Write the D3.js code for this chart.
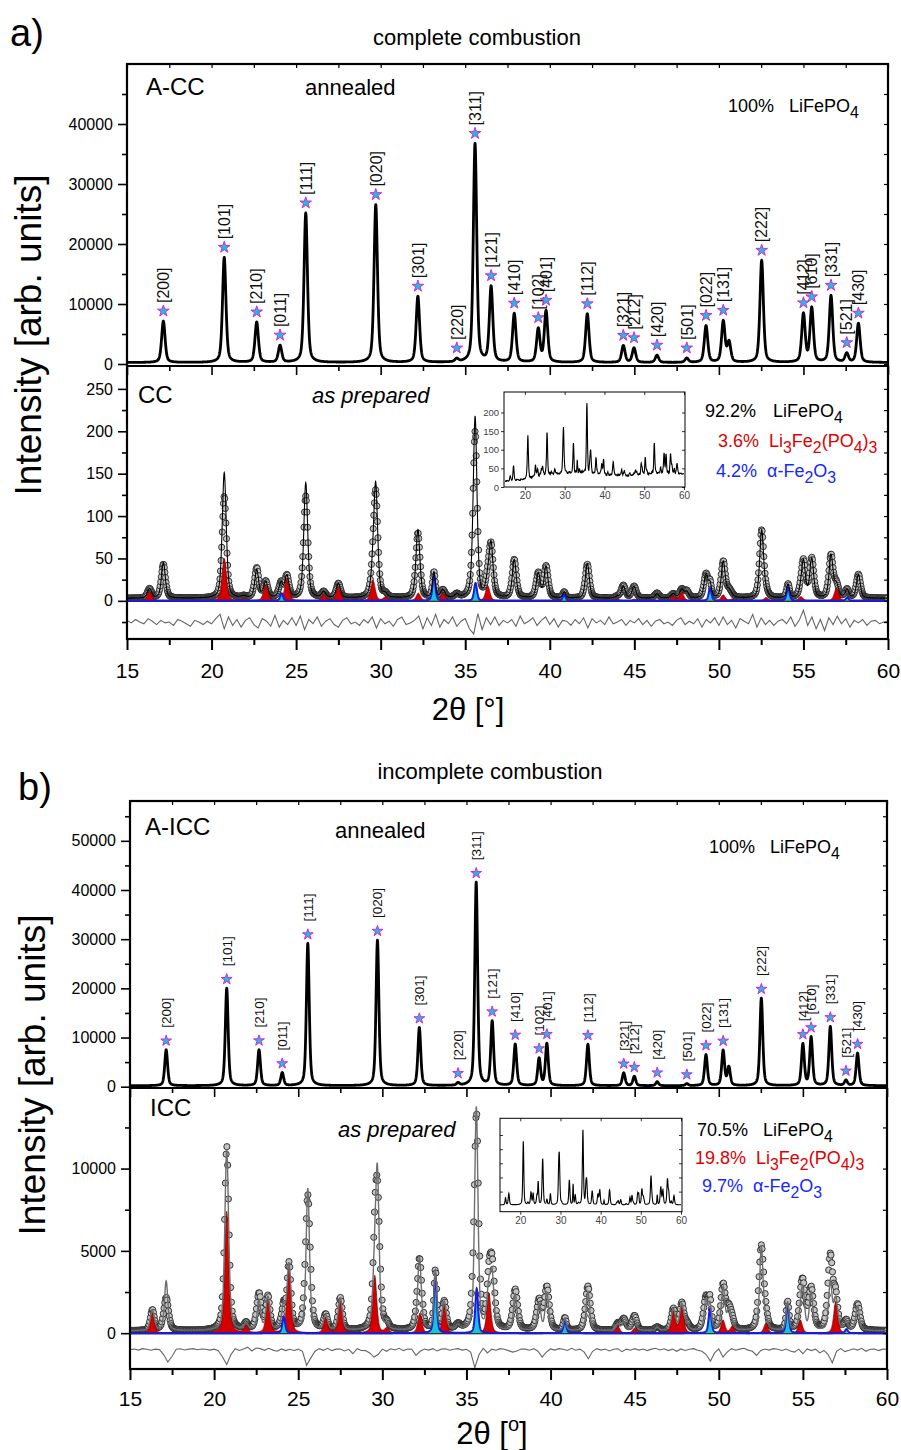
<!DOCTYPE html>
<html>
<head>
<meta charset="utf-8">
<script src="https://cdn.jsdelivr.net/npm/d3@7"></script>
<style>
  body { margin: 0; background: #fff; }
  text { font-family: "Liberation Sans", Arial, sans-serif; }
</style>
</head>
<body>
<svg id="fig" width="901" height="1450"></svg>
<script>
// ---------- values ----------
const xTicks = [15, 20, 25, 30, 35, 40, 45, 50, 55, 60];
const xMinor = [17.5, 22.5, 27.5, 32.5, 37.5, 42.5, 47.5, 52.5, 57.5];

// LiFePO4 reflections
const hkl = ["[200]", "[101]", "[210]", "[011]", "[111]", "[020]", "[301]", "[220]", "[311]", "[121]",
  "[410]", "[102]", "[401]", "[112]", "[321]", "[212]", "[420]", "[501]", "[022]", "[131]",
  "[222]", "[412]", "[610]", "[331]", "[521]", "[430]"];
const lfpPos = [17.15, 20.75, 22.67, 24.05, 25.57, 29.71, 32.2, 34.5, 35.58, 36.53,
  37.9, 39.32, 39.78, 42.22, 44.35, 44.98, 46.34, 48.1, 49.24, 50.26,
  52.53, 55.0, 55.49, 56.63, 57.56, 58.25];
const shoulderPos = [50.6];

// annealed patterns (upper panels)
const annealedCC = [6900, 17500, 6700, 2800, 24900, 26300, 11000, 500, 36400, 12500,
  8100, 5500, 8500, 8100, 2800, 2400, 1200, 700, 6100, 6800,
  17000, 8000, 9000, 11100, 1450, 6500];
const annealedICC = [7300, 19800, 7300, 2600, 28900, 29600, 11800, 500, 41300, 13000,
  8400, 5500, 8500, 8400, 2600, 1900, 800, 400, 6300, 7100,
  17800, 8400, 9800, 12000, 1050, 6600];
const shoulderCCann = [3300];
const shoulderICCann = [3700];

// as prepared patterns (lower panels): LiFePO4 part, observed and calculated
const ccObs = [40, 70, 35, 10, 120, 116, 68, 4, 176, 58, 45, 29, 37, 40, 15, 12, 6, 8, 28, 36, 80, 42, 46, 50, 6, 28];
const ccCalc = [42, 98, 33, 10, 136, 126, 72, 4, 194, 60, 45, 29, 37, 41, 14, 12, 5, 7, 28, 36, 80, 42, 46, 50, 6, 28];
const iccObs = [2000, 3800, 2200, 500, 8200, 7700, 3200, 300, 10600, 3700, 2450, 1800, 2600, 2700, 700, 600, 200, 400, 2000, 1900, 5100, 2650, 2500, 4500, 300, 1600];
const iccCalc = [3000, 3600, 1800, 500, 8600, 8600, 3300, 300, 11000, 3000, 2200, 1600, 2300, 2400, 500, 400, 200, 400, 1800, 1800, 5000, 2300, 2300, 2900, 300, 1500];
const shoulderCC = [8];
const shoulderICC = [1200];

// Li3Fe2(PO4)3 contribution (red)
const liPos = [16.33, 20.75, 21.9, 23.2, 24.45, 26.63, 27.5, 29.55, 30.27, 32.23, 33.68, 36.33,
  44.0, 45.0, 47.3, 47.8, 50.25, 50.8, 52.8, 54.85, 56.95];
const liCC = [11, 50, 2, 19, 26, 7, 17, 24, 4, 9, 9, 18, 2, 2, 5, 10, 7, 2, 4, 5, 15];
const liICC = [1250, 7400, 400, 2000, 4000, 900, 1950, 3500, 300, 1200, 1700, 2450, 400, 300, 1300, 1600, 800, 400, 600, 800, 1900];

// alpha-Fe2O3 contribution (cyan/blue)
const fePos = [24.14, 33.15, 35.61, 40.85, 49.48, 54.09, 57.59];
const feCC = [9, 30, 21, 7, 15, 16, 4];
const feICC = [1000, 3600, 2700, 750, 1500, 1700, 250];

// difference curves, 15..60 deg in steps of 0.25
const diffCC = [
  2, -1, 3, 0, -2, 4, 1, -3, 2, -1, 0, -4, 3, 1, -2, -5, 2, 0, -3, 1,
  -2, 4, 9, -8, 6, -4, 3, -6, 2, 5, -3, -7, 4, 1, -5, 8, -6, 2, -3, 5,
  -4, 7, -9, 3, -2, 6, -5, 1, 4, -3, -6, 2, 5, -2, 0, -4, 3, -1, 6, -7,
  4, -2, 1, -5, 3, 6, -3, -1, 2, 7, -8, 5, -4, 9, -6, 3, -2, 6, -5, 1,
  4, -8, -14, 10, -9, 5, -3, 6, -4, 2, -1, 3, -5, 7, -2, 1, 5, -4, 2, 6,
  -3, 4, -6, 2, 1, -4, 3, -2, 5, -7, 4, -1, 2, -3, 6, -2, 0, 3, -4, 2,
  -1, 4, -3, 2, -5, 1, 3, -2, 0, -4, 2, 5, -3, 1, -2, 4, -6, 3, -1, 5,
  -4, 6, -3, 2, -7, 4, 1, -2, 9, -6, 5, -3, 2, -4, 1, 3, -2, 6, -5, 2,
  14, -4, 6, -8, 3, -10, 5, -3, 7, -2, 4, -6, 2, -1, 3, -4, 1, 2, -2, 0,
  1];
const diffICC = [
  0, 40, -30, 60, 20, -40, 30, 0, -300, -750, -400, 20, 50, -20, 30, 60, -10, 40, 20, -30,
  30, -60, -450, -900, -300, 60, -50, 40, 150, -80, 100, 60, -40, 80, -30, -100, 40, -60, 20, -50,
  30, -100, -950, -500, -100, 60, -40, 80, -60, 30, 40, -80, 20, -250, 60, -50, -60, -200, -450, -300,
  30, -100, 50, -20, 80, -60, 40, 20, -350, -100, 40, -30, 60, -80, 30, 50, -40, 20, 60, -30,
  20, -150, -1100, -300, 80, -200, 30, -40, 60, 20, -60, -150, -80, 40, 30, -40, 60, -100, -450, -150,
  40, -30, 60, 20, -50, 80, -40, 30, -150, -550, -100, 60, -30, 40, -80, 20, 50, -120, 30, -40,
  60, -30, 40, -60, 30, 80, -20, 50, -60, 30, -100, 40, -50, 20, 60, -40, -100, -300, -700, -200,
  40, -450, -150, 60, -40, 30, 80, -30, -100, -350, -50, 40, -30, 60, 20, -50, 40, -80, -150, 30,
  -250, 40, -60, 30, -200, -50, -300, -800, -100, 60, -120, -40, 50, -30, 80, -100, 20, 40, -60, 30,
  20];

// raw pattern background of the CC inset, at xTicks
const insetBgCC = [12, 18, 28, 34, 34, 30, 27, 30, 35, 32];

// axis ticks
const yTicksAnnCC = [0, 10000, 20000, 30000, 40000];
const yMinorAnnCC = [5000, 15000, 25000, 35000, 45000];
const yTicksAnnICC = [0, 10000, 20000, 30000, 40000, 50000];
const yMinorAnnICC = [5000, 15000, 25000, 35000, 45000, 55000];
const yTicksCC = [0, 50, 100, 150, 200, 250];
const yMinorCC = [-25, 25, 75, 125, 175, 225];
const yTicksICC = [0, 5000, 10000];
const yMinorICC = [2500, 7500, 12500];
const insetX = [20, 30, 40, 50, 60];
const insetYCC = [0, 50, 100, 150, 200];
const insetYICC = [2500, 5000, 7500, 10000, 12500];

// legend text
const phaseNames = ["LiFePO_4", "Li_3Fe_2(PO_4)_3", "α-Fe_2O_3"];
const fracCC = ["92.2%", "3.6%", "4.2%"];
const fracICC = ["70.5%", "19.8%", "9.7%"];
const fracAnnealed = "100%";

// ---------- drawing ----------
const svg = d3.select("#fig");
const FONT = "'Liberation Sans', Arial, sans-serif";
const phaseColors = ["#000", "#e00000", "#1428ff"];

function pv(x, c, h, w) {
  const t = (x - c) / w;
  return h * (0.45 / (1 + 4 * t * t) + 0.55 * Math.exp(-2.7726 * t * t));
}
function sumPeaks(x, pos, hs, w) {
  let s = 0;
  for (let i = 0; i < pos.length; i++) {
    const d = x - pos[i];
    if (d > -5 && d < 5) s += pv(x, pos[i], hs[i], w);
  }
  return s;
}
const grid = d3.range(15, 60.0001, 0.01);
const diffX = diffCC.map((d, i) => 15 + i * 0.25);

function chem(t, str, size) {
  let cur = 0;
  str.match(/_.|[^_]+/g).forEach(p => {
    const sub = p[0] === "_";
    const off = sub ? size * 0.32 : 0;
    t.append("tspan").attr("dy", off - cur).attr("font-size", sub ? size * 0.88 : size)
      .text(sub ? p.slice(1) : p);
    cur = off;
  });
}

function label(x, y, txt, size, opts = {}) {
  return svg.append("text").attr("x", x).attr("y", y).attr("font-size", size)
    .attr("font-family", FONT).attr("fill", opts.color || "#000")
    .attr("text-anchor", opts.anchor || "start")
    .attr("font-style", opts.italic ? "italic" : "normal").text(txt);
}

function styleAxis(g, size, width) {
  g.select(".domain").remove();
  g.selectAll("line").attr("stroke", "#000").attr("stroke-width", width || 1.6);
  g.selectAll("text").attr("font-family", FONT).attr("font-size", size).attr("fill", "#000");
}

function axes(L, x, yU, yL, t) {
  svg.append("g").attr("transform", `translate(${L.left},0)`)
    .call(d3.axisLeft(yU).tickValues(t.upMajor).tickSize(9).tickPadding(5).tickFormat(d3.format("d")))
    .call(g => styleAxis(g, 16));
  svg.append("g").attr("transform", `translate(${L.left},0)`)
    .call(d3.axisLeft(yU).tickValues(t.upMinor).tickSize(5).tickFormat(""))
    .call(g => styleAxis(g, 16));
  svg.append("g").attr("transform", `translate(${L.left},0)`)
    .call(d3.axisLeft(yL).tickValues(t.loMajor).tickSize(9).tickPadding(5).tickFormat(d3.format("d")))
    .call(g => styleAxis(g, 16));
  svg.append("g").attr("transform", `translate(${L.left},0)`)
    .call(d3.axisLeft(yL).tickValues(t.loMinor).tickSize(5).tickFormat(""))
    .call(g => styleAxis(g, 16));
  [[yU, t.upMajor.concat(t.upMinor)], [yL, t.loMajor.concat(t.loMinor)]].forEach(([ys, v]) => {
    svg.append("g").attr("transform", `translate(${L.right},0)`)
      .call(d3.axisRight(ys).tickValues(v).tickSize(-4).tickFormat(""))
      .call(g => styleAxis(g, 16, 1.2));
  });
  svg.append("g").attr("transform", `translate(0,${L.top})`)
    .call(d3.axisTop(x).tickValues(xTicks.concat(xMinor)).tickSize(-4).tickFormat(""))
    .call(g => styleAxis(g, 16, 1.2));
  svg.append("g").attr("transform", `translate(0,${L.sep})`)
    .call(d3.axisBottom(x).tickValues(xTicks).tickSize(9).tickFormat(""))
    .call(g => styleAxis(g, 16));
  svg.append("g").attr("transform", `translate(0,${L.sep})`)
    .call(d3.axisBottom(x).tickValues(xMinor).tickSize(5).tickFormat(""))
    .call(g => styleAxis(g, 16));
  svg.append("g").attr("transform", `translate(0,${L.bottom})`)
    .call(d3.axisBottom(x).tickValues(xTicks).tickSize(11).tickPadding(L.xPad).tickFormat(d3.format("d")))
    .call(g => styleAxis(g, 21, 2));
  svg.append("g").attr("transform", `translate(0,${L.bottom})`)
    .call(d3.axisBottom(x).tickValues(xMinor).tickSize(6).tickFormat(""))
    .call(g => styleAxis(g, 21, 2));
  svg.append("rect").attr("x", L.left).attr("y", L.top)
    .attr("width", L.right - L.left).attr("height", L.bottom - L.top)
    .attr("fill", "none").attr("stroke", "#000").attr("stroke-width", 2.2);
  svg.append("line").attr("x1", L.left).attr("x2", L.right).attr("y1", L.sep).attr("y2", L.sep)
    .attr("stroke", "#000").attr("stroke-width", 2.2);
}

function drawAnnealed(L, x, y, heights, shoulder, w, bg, o) {
  const f = t => bg + sumPeaks(t, lfpPos, heights, w) + sumPeaks(t, shoulderPos, shoulder, w);
  svg.append("path").datum(grid)
    .attr("d", d3.line().x(d => x(d)).y(d => y(f(d))))
    .attr("fill", "none").attr("stroke", "#000").attr("stroke-width", 2.8)
    .attr("stroke-linejoin", "round");
  const star = d3.symbol(d3.symbolStar, o.starSize)();
  lfpPos.forEach((p, i) => {
    const sy = y(f(p)) - o.starOff;
    svg.append("path").attr("d", star).attr("transform", `translate(${x(p)},${sy})`)
      .attr("fill", "#12c4d8").attr("stroke", "#e01ee0").attr("stroke-width", 1);
    svg.append("text").attr("transform", `translate(${x(p) + o.fs * 0.36},${sy - o.gap}) rotate(-90)`)
      .attr("font-family", FONT).attr("font-size", o.fs).attr("fill", "#111").text(hkl[i]);
  });
}

function drawRefined(L, x, y, d, clipId) {
  const li = t => sumPeaks(t, liPos, d.li, d.wLi);
  const fe = t => sumPeaks(t, fePos, d.fe, d.wFe);
  const rest = t => d.bg + li(t) + fe(t);
  const calc = t => rest(t) + sumPeaks(t, lfpPos, d.calc, d.wCalc) + sumPeaks(t, shoulderPos, d.shoulder, d.wCalc);
  const obs = t => rest(t) + sumPeaks(t, lfpPos, d.obs, d.wObs) + sumPeaks(t, shoulderPos, d.shoulder, d.wObs);

  svg.append("clipPath").attr("id", clipId).append("rect")
    .attr("x", L.left).attr("y", L.sep).attr("width", L.right - L.left).attr("height", L.bottom - L.sep);
  const g = svg.append("g").attr("clip-path", `url(#${clipId})`);

  g.append("line").attr("x1", L.left).attr("x2", L.right).attr("y1", y(0)).attr("y2", y(0))
    .attr("stroke", "#000").attr("stroke-width", 2);
  g.selectAll("circle.obs").data(d3.range(15, 60.0001, d.step)).join("circle")
    .attr("class", "obs").attr("cx", t => x(t)).attr("cy", t => y(obs(t))).attr("r", 3.1)
    .attr("fill", "#c4c4c4").attr("stroke", "#222").attr("stroke-width", 0.9);
  g.append("path").datum(grid)
    .attr("d", d3.area().x(t => x(t)).y0(y(0)).y1(t => y(li(t))))
    .attr("fill", "#d40000").attr("stroke", "#7a0000").attr("stroke-width", 0.7);
  g.append("path").datum(grid)
    .attr("d", d3.area().x(t => x(t)).y0(y(0)).y1(t => y(fe(t))))
    .attr("fill", "#12c6d8");
  g.append("path").datum(grid)
    .attr("d", d3.line().x(t => x(t)).y(t => y(fe(t))))
    .attr("fill", "none").attr("stroke", "#1a1ae0").attr("stroke-width", 2);
  g.append("path").datum(grid)
    .attr("d", d3.line().x(t => x(t)).y(t => y(calc(t))))
    .attr("fill", "none").attr("stroke", d.calcColor).attr("stroke-width", d.calcWidth);
  g.append("path").datum(diffX)
    .attr("d", d3.line().x(t => x(t)).y((t, i) => y(d.diffOffset + d.diff[i])))
    .attr("fill", "none").attr("stroke", "#666").attr("stroke-width", 1.1);
  return obs;
}

function drawInset(box, yDom, values, o) {
  const xi = d3.scaleLinear().domain([15, 60]).range([box.x0, box.x1]);
  const yi = d3.scaleLinear().domain(yDom).range([box.bottom, box.top]);
  const pts = d3.range(15, 60.0001, 0.05);
  svg.append("rect").attr("x", box.left).attr("y", box.top).attr("width", box.right - box.left)
    .attr("height", box.bottom - box.top).attr("fill", "#fff").attr("stroke", "#000").attr("stroke-width", 1);
  svg.append("path").datum(pts)
    .attr("d", d3.line().x(t => xi(t)).y(t => yi(values(t))))
    .attr("fill", "none").attr("stroke", "#000").attr("stroke-width", 1.1);
  svg.append("g").attr("transform", `translate(0,${box.bottom})`)
    .call(d3.axisBottom(xi).tickValues(insetX).tickSize(3).tickPadding(2))
    .call(g => { styleAxis(g, 10, 0.8); g.selectAll("text").attr("fill", "#444"); });
  svg.append("g").attr("transform", `translate(${box.left},0)`)
    .call(d3.axisLeft(yi).tickValues(o.yTicks).tickSize(o.yLabels ? 3 : -3).tickPadding(2)
      .tickFormat(o.yLabels ? d3.format("d") : ""))
    .call(g => { styleAxis(g, 9.5, 0.8); g.selectAll("text").attr("fill", "#444"); });
  svg.append("g").attr("transform", `translate(${box.right},0)`)
    .call(d3.axisRight(yi).tickValues(o.yTicks).tickSize(-3).tickFormat(""))
    .call(g => styleAxis(g, 9, 0.8));
  svg.append("g").attr("transform", `translate(0,${box.top})`)
    .call(d3.axisTop(xi).tickValues(insetX).tickSize(-3).tickFormat(""))
    .call(g => styleAxis(g, 9, 0.8));
}

function legend(pcts, xs, names, nxs, ys) {
  pcts.forEach((p, i) => {
    label(xs[i], ys[i], p, 18, { color: phaseColors[i] });
    chem(label(nxs[i], ys[i], "", 18, { color: phaseColors[i] }), names[i], 18);
  });
}

// ===== panel a) =====
const LA = { left: 127, right: 888, top: 64, sep: 366, bottom: 639, xPad: 13 };
const xA = d3.scaleLinear().domain([15, 60]).range([LA.left, LA.right]);
const yAU = d3.scaleLinear().domain([0, 50000]).range([364, LA.top]);
const yAL = d3.scaleLinear().domain([-45, 277]).range([LA.bottom, LA.sep]);

drawAnnealed(LA, xA, yAU, annealedCC, shoulderCCann, 0.24, 250, { starSize: 42, starOff: 10, gap: 8, fs: 16 });
const obsCC = drawRefined(LA, xA, yAL, {
  obs: ccObs, calc: ccCalc, wObs: 0.3, wCalc: 0.27, li: liCC, wLi: 0.3, fe: feCC, wFe: 0.2,
  shoulder: shoulderCC, bg: 3, diff: diffCC, diffOffset: -25, calcColor: "#000", calcWidth: 1.1, step: 0.035
}, "clipA");
axes(LA, xA, yAU, yAL, { upMajor: yTicksAnnCC, upMinor: yMinorAnnCC, loMajor: yTicksCC, loMinor: yMinorCC });

const bgCC = d3.scaleLinear().domain(xTicks).range(insetBgCC);
drawInset({ left: 504, right: 685, x0: 505, x1: 684, top: 392, bottom: 487 }, [0, 255],
  t => obsCC(t) + bgCC(t) + 0.5 * diffCC[Math.round((t - 15) / 0.25)],
  { yTicks: insetYCC, yLabels: true });

label(10, 46, "a)", 38);
label(477, 45, "complete combustion", 22, { anchor: "middle" });
label(146, 95, "A-CC", 24);
label(305, 95, "annealed", 22);
label(728, 112, fracAnnealed, 18);
chem(label(789, 112, "", 18), phaseNames[0], 18);
label(138, 403, "CC", 24);
label(312, 403, "as prepared", 22, { italic: true });
legend(fracCC, [705, 718, 716], phaseNames, [773, 769, 767], [417, 447, 477]);
label(0, 0, "Intensity [arb. units]", 37, { anchor: "middle" })
  .attr("transform", "translate(41,335) rotate(-90)");
label(468, 720, "2θ [°]", 31, { anchor: "middle" });

// ===== panel b) =====
const LB = { left: 130, right: 887, top: 801, sep: 1088, bottom: 1369, xPad: 11.5 };
const xB = d3.scaleLinear().domain([15, 60]).range([LB.left, LB.right]);
const yBU = d3.scaleLinear().domain([0, 58100]).range([1086.7, LB.top]);
const yBL = d3.scaleLinear().domain([-2177, 14896]).range([LB.bottom, LB.sep]);

drawAnnealed(LB, xB, yBU, annealedICC, shoulderICCann, 0.2, 200, { starSize: 36, starOff: 9, gap: 13, fs: 13.5 });
const obsICC = drawRefined(LB, xB, yBL, {
  obs: iccObs, calc: iccCalc, wObs: 0.34, wCalc: 0.24, li: liICC, wLi: 0.28, fe: feICC, wFe: 0.2,
  shoulder: shoulderICC, bg: 150, diff: diffICC, diffOffset: -1000, calcColor: "#6e6e6e", calcWidth: 1.4, step: 0.045
}, "clipB");
axes(LB, xB, yBU, yBL, { upMajor: yTicksAnnICC, upMinor: yMinorAnnICC, loMajor: yTicksICC, loMinor: yMinorICC });

drawInset({ left: 500, right: 682, x0: 500.2, x1: 681, top: 1118.3, bottom: 1211.7 }, [-1050, 15450],
  t => obsICC(t), { yTicks: insetYICC, yLabels: false });

label(18, 800, "b)", 38);
label(490, 779, "incomplete combustion", 22, { anchor: "middle" });
label(145, 835, "A-ICC", 24);
label(335, 838, "annealed", 22);
label(709, 853, fracAnnealed, 18);
chem(label(770, 853, "", 18), phaseNames[0], 18);
label(150, 1116, "ICC", 24);
label(338, 1137, "as prepared", 22, { italic: true });
legend(fracICC, [697, 695, 702], phaseNames, [763, 756, 753], [1136, 1164, 1192]);
label(0, 0, "Intensity [arb. units]", 37, { anchor: "middle" })
  .attr("transform", "translate(45,1075) rotate(-90)");
const xt = label(492, 1444, "2θ [", 31, { anchor: "middle" });
xt.append("tspan").attr("font-size", 20).attr("dy", -13).text("o");
xt.append("tspan").attr("dy", 13).text("]");
</script>
</body>
</html>
